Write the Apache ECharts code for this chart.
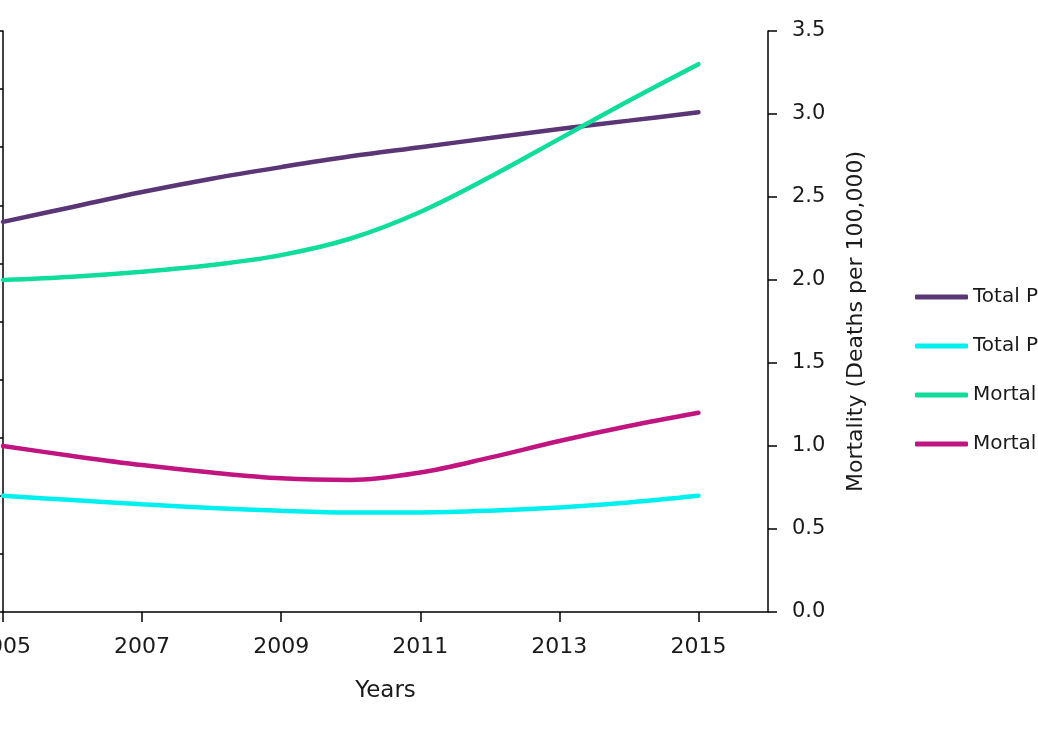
<!DOCTYPE html>
<html>
<head>
<meta charset="utf-8">
<script src="https://cdn.jsdelivr.net/npm/echarts@6/dist/echarts.min.js"></script>
<style>
html,body{margin:0;padding:0;background:#fff;}
#chart{width:1038px;height:739px;}
</style>
</head>
<body>
<div id="chart"></div>
<script>
// Axis categories (years) and tick labels
const years = ['2005','2006','2007','2008','2009','2010','2011','2012','2013','2014','2015','2016'];
// Years with values
const dataYears = ['2005','2006','2007','2008','2009','2010','2011','2012','2013','2014','2015'];
// Series values (read against the right-hand axis, deaths per 100,000)
const totalPrevalenceMales   = [2.35, 2.44, 2.53, 2.61, 2.68, 2.745, 2.80, 2.855, 2.91, 2.96, 3.01];
const totalPrevalenceFemales = [0.70, 0.674, 0.649, 0.627, 0.610, 0.600, 0.600, 0.610, 0.630, 0.660, 0.700];
const mortalityMales         = [2.00, 2.02, 2.05, 2.09, 2.15, 2.25, 2.41, 2.62, 2.85, 3.08, 3.30];
const mortalityFemales       = [1.00, 0.94, 0.885, 0.84, 0.805, 0.795, 0.84, 0.93, 1.03, 1.12, 1.20];
const seriesNames = ['Total Prevalence (Males)', 'Total Prevalence (Females)', 'Mortality (Males)', 'Mortality (Females)'];
const seriesColors = ['#5a3676', '#00f0f0', '#10dc9c', '#c01480'];

const allValues = [totalPrevalenceMales, totalPrevalenceFemales, mortalityMales, mortalityFemales];

const textColor = '#1a1a1a';
const fontFamily = 'DejaVu Sans';

const chart = echarts.init(document.getElementById('chart'), null, {renderer: 'canvas'});

const series = allValues.map((vals, i) => ({
  name: seriesNames[i],
  type: 'line',
  xAxisIndex: 0,
  yAxisIndex: 1,
  smooth: 0.35,
  showSymbol: false,
  symbol: 'none',
  lineStyle: {width: 4.5, color: seriesColors[i], cap: 'round'},
  itemStyle: {color: seriesColors[i]},
  data: dataYears.map((y, j) => [y, vals[j]])
}));

const option = {
  animation: false,
  backgroundColor: '#fff',
  textStyle: {fontFamily: fontFamily, color: textColor},
  grid: {left: 3, right: 270, top: 31, bottom: 127, containLabel: false, outerBoundsMode: 'none'},
  legend: {
    orient: 'vertical',
    left: 910,
    top: 282,
    itemWidth: 53,
    itemHeight: 5,
    itemGap: 29,
    icon: 'roundRect',
    textStyle: {fontFamily: fontFamily, fontSize: 20, color: textColor, lineHeight: 20},
    data: seriesNames.map((n, i) => ({name: n, itemStyle: {color: seriesColors[i]}}))
  },
  xAxis: {
    type: 'category',
    data: years,
    boundaryGap: false,
    name: 'Years',
    nameLocation: 'middle',
    nameGap: 68,
    nameTextStyle: {fontFamily: fontFamily, fontSize: 23, color: textColor},
    axisLine: {show: true, lineStyle: {color: '#000', width: 1.5}},
    axisTick: {show: true, interval: 1, length: 10, lineStyle: {color: '#000', width: 1.5}},
    axisLabel: {interval: 1, margin: 24, fontFamily: fontFamily, fontSize: 22, color: textColor},
    splitLine: {show: false}
  },
  yAxis: [
    {
      type: 'value',
      position: 'left',
      min: 0,
      max: 10,
      interval: 1,
      axisLine: {show: true, lineStyle: {color: '#000', width: 1.5}},
      axisTick: {show: true, length: 9, lineStyle: {color: '#000', width: 1.5}},
      axisLabel: {show: false},
      splitLine: {show: false}
    },
    {
      type: 'value',
      position: 'right',
      min: 0,
      max: 3.5,
      interval: 0.5,
      name: 'Mortality (Deaths per 100,000)',
      nameLocation: 'middle',
      nameRotate: 90,
      nameGap: 77,
      nameTextStyle: {fontFamily: fontFamily, fontSize: 22, color: textColor},
      axisLine: {show: true, lineStyle: {color: '#000', width: 1.5}},
      axisTick: {show: true, length: 9, lineStyle: {color: '#000', width: 1.5}},
      axisLabel: {margin: 24, fontFamily: fontFamily, fontSize: 21, color: textColor,
        formatter: v => v.toFixed(1)},
      splitLine: {show: false}
    }
  ],
  series: series
};
chart.setOption(option);
</script>
</body>
</html>
